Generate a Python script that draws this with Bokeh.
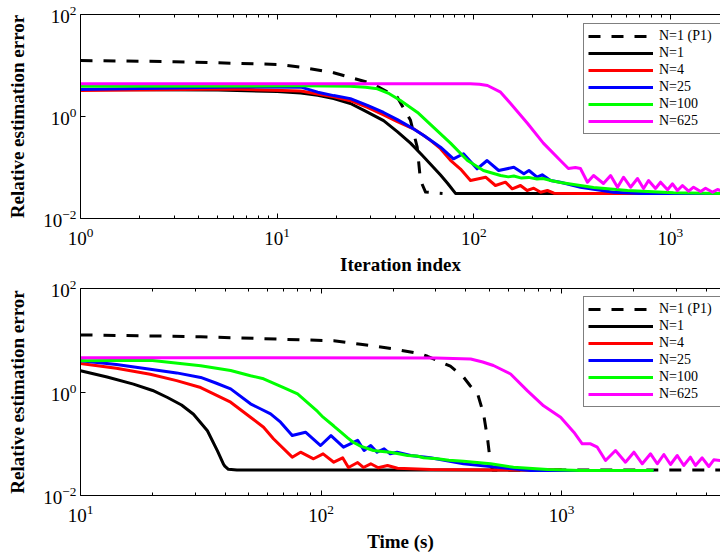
from bokeh.plotting import figure
from bokeh.models import Range1d, LogAxis, FixedTicker, Legend, LegendItem, CustomJSTickFormatter
from bokeh.layouts import column
from bokeh.embed import file_html
from bokeh.resources import INLINE

# ---------------- data ----------------
labels = ["N=1 (P1)", "N=1", "N=4", "N=25", "N=100", "N=625"]
colors = ["black", "black", "#ff0000", "#0000ff", "#00ff00", "#ff00ff"]

# Top panel: error vs iteration index
it_x_p1 = [1, 3, 10, 13.2, 19.4, 30.5, 40.8, 47.7, 51.6, 53.6, 56.9, 69.4]
it_y_p1 = [12.5, 11.9, 10.5, 9.3, 7.2, 4.4, 2.4, 0.84, 0.25, 0.056, 0.033, 0.031]

it_x_n1 = [1, 5, 10, 13.2, 16.1, 19.4, 23.6, 28, 34.8, 41, 47.7, 55, 62.5, 67.8, 73.6,
           80.8, 1800]
it_y_n1 = [3.4, 3.3, 3.1, 2.9, 2.6, 2.24, 1.8, 1.29, 0.83, 0.50, 0.30, 0.17, 0.10, 0.071,
           0.049, 0.031, 0.031]

it_x_n4 = [1, 6, 13.2, 16.1, 19.4, 23.6, 28.8, 34.8, 40.9, 49.4, 55, 60.3, 67.8, 76.2,
           85.7, 96.3, 115, 129, 145, 157, 173, 187, 202, 219, 237, 256, 349, 1800]
it_y_n4 = [3.25, 3.45, 3.16, 2.75, 2.43, 2.04, 1.51, 1.07, 0.79, 0.575, 0.44, 0.34, 0.234,
           0.138, 0.093, 0.0556, 0.0645, 0.0444, 0.0515, 0.0382, 0.0444, 0.0354, 0.0393,
           0.0328, 0.0354, 0.0313, 0.031, 0.031]

it_x_n25 = [1, 6, 13.2, 16.1, 19.4, 23.6, 28.8, 34.8, 40.9, 47.7, 56, 67.8, 78.9, 88.7,
            104, 117, 134, 160, 180, 191, 210, 223, 246, 276, 349, 514, 705, 1800]
it_y_n25 = [3.38, 3.8, 3.76, 3.0, 2.57, 2.24, 1.66, 1.2, 0.87, 0.62, 0.42, 0.25, 0.148,
            0.186, 0.094, 0.137, 0.0873, 0.101, 0.0752, 0.0873, 0.0645, 0.0719, 0.0556,
            0.0515, 0.0411, 0.0328, 0.0309, 0.031]

it_x_n100 = [1, 13.2, 23.6, 28.2, 32.4, 37.2, 42.4, 51.8, 62.5, 76.2, 93, 112, 137, 150,
             160, 175, 190, 210, 225, 250, 276, 407, 606, 1038, 1800]
it_y_n100 = [3.9, 4.0, 3.9, 3.76, 3.49, 2.8, 2.06, 1.2, 0.61, 0.30, 0.137, 0.0873, 0.0697,
             0.0655, 0.068, 0.062, 0.064, 0.0595, 0.061, 0.055, 0.0507, 0.0405, 0.0354,
             0.0319, 0.031]

it_x_n625 = [1, 96, 107, 117.5, 137, 154, 188, 226, 276, 303, 329, 349, 379, 407, 457, 497,
             539, 578, 628, 681, 731, 775, 841, 892, 968, 1026, 1088, 1153, 1239, 1313,
             1426, 1511, 1641, 1738, 1800]
it_y_n625 = [4.4, 4.4, 4.3, 4.05, 3.0, 1.8, 0.73, 0.30, 0.137, 0.0955, 0.1, 0.0955, 0.0515,
             0.0697, 0.0486, 0.0697, 0.0411, 0.0645, 0.0411, 0.0609, 0.0388, 0.0556,
             0.0388, 0.0515, 0.0365, 0.0479, 0.0354, 0.0444, 0.0343, 0.0411, 0.0338,
             0.0393, 0.0328, 0.037, 0.0354]

# Bottom panel: error vs time (s)
t_x_p1 = [10, 31.6, 113, 146, 200, 259, 277, 323, 345, 391, 417, 448, 474, 492, 507, 517, 4580]
t_y_p1 = [12.7, 11.7, 9.76, 8.39, 6.8, 5.47, 4.9, 3.6, 3.15, 1.95, 1.32, 0.915, 0.376, 0.13,
          0.04, 0.031, 0.031]

t_x_n1 = [10, 12.9, 16.6, 19.95, 23, 26.3, 29.5, 33.7, 37.1, 39.3, 39.8, 41.2, 44.7, 1000]
t_y_n1 = [2.57, 1.95, 1.42, 1.07, 0.783, 0.56, 0.372, 0.178, 0.073, 0.0403, 0.037, 0.032,
          0.031, 0.031]

t_x_n4 = [10, 14.1, 19.5, 25.1, 31.6, 42.1, 50.9, 57.7, 63.4, 75.9, 82.2, 93.1, 102, 113,
          123, 130, 142, 150, 161, 173, 189, 208, 285, 507, 1000]
t_y_n4 = [3.56, 2.88, 2.21, 1.66, 1.22, 0.635, 0.326, 0.209, 0.125, 0.055, 0.0687, 0.0512,
          0.0639, 0.044, 0.0535, 0.0348, 0.0434, 0.0348, 0.041, 0.0343, 0.038, 0.0337,
          0.0318, 0.031, 0.031]

t_x_n25 = [10, 14.1, 19.5, 25.1, 31.6, 36.3, 42.1, 50.9, 56.2, 61.7, 67.9, 75.9, 86.2, 99.6,
           110, 124, 142, 151, 161, 171, 183, 194, 207, 236, 285, 391, 542, 743, 2415]
t_y_n25 = [4.0, 3.39, 2.76, 2.34, 1.91, 1.51, 1.15, 0.591, 0.47, 0.379, 0.261, 0.144, 0.167,
           0.0925, 0.144, 0.0858, 0.116, 0.0741, 0.0925, 0.0687, 0.0798, 0.0639, 0.0687,
           0.0593, 0.0535, 0.041, 0.0352, 0.0304, 0.0304]

t_x_n100 = [10, 19.5, 31.6, 42.1, 50.9, 57.7, 69.9, 79.9, 96.7, 102, 113, 121, 129, 136,
            146, 165, 180, 194, 210, 229, 250, 267, 305, 340, 391, 507, 631, 875, 1199, 2415]
t_y_n100 = [4.0, 4.1, 3.21, 2.6, 2.06, 1.8, 1.22, 0.92, 0.42, 0.326, 0.22, 0.167, 0.13,
            0.107, 0.09, 0.074, 0.071, 0.0687, 0.064, 0.0593, 0.058, 0.0535, 0.0512, 0.048,
            0.046, 0.041, 0.0352, 0.0318, 0.0304, 0.0304]

t_x_n625 = [10, 300, 419, 470, 521, 614, 722, 842, 991, 1125, 1219, 1320, 1408, 1524, 1676,
            1844, 1999, 2166, 2345, 2500, 2663, 2838, 3027, 3222, 3434, 3604, 3843, 4095,
            4296, 4580]
t_y_n625 = [4.58, 4.55, 4.34, 3.8, 3.25, 2.23, 1.05, 0.541, 0.326, 0.167, 0.0998, 0.0998,
            0.0858, 0.0475, 0.0741, 0.044, 0.0687, 0.041, 0.0639, 0.041, 0.062, 0.0397,
            0.0593, 0.038, 0.055, 0.038, 0.0535, 0.0363, 0.0489, 0.0475]

top_series = [(it_x_p1, it_y_p1), (it_x_n1, it_y_n1), (it_x_n4, it_y_n4),
              (it_x_n25, it_y_n25), (it_x_n100, it_y_n100), (it_x_n625, it_y_n625)]
bot_series = [(t_x_p1, t_y_p1), (t_x_n1, t_y_n1), (t_x_n4, t_y_n4),
              (t_x_n25, t_y_n25), (t_x_n100, t_y_n100), (t_x_n625, t_y_n625)]

SERIF = "Liberation Serif"
FS = "19px"


def decade_ticker(lo, hi, minor=True):
    majors = [10.0 ** k for k in range(lo, hi + 1)]
    minors = [m * 10.0 ** k for k in range(lo, hi + 1) for m in range(2, 10)] if minor else []
    return FixedTicker(ticks=majors, minor_ticks=minors)


def style_axis(ax):
    ax.axis_line_color = "black"
    ax.axis_line_width = 1
    ax.major_tick_line_color = "black"
    ax.minor_tick_line_color = "black"
    ax.major_tick_in = 5
    ax.major_tick_out = 0
    ax.minor_tick_in = 3
    ax.minor_tick_out = 0
    ax.major_label_text_font = SERIF
    ax.major_label_text_font_size = FS
    ax.major_label_text_color = "black"
    ax.axis_label_text_font = SERIF
    ax.axis_label_text_font_size = FS
    ax.axis_label_text_font_style = "bold"
    ax.axis_label_text_color = "black"


def make_fig(height, btop, bbot, xr, xdec, xlabel, series, legend_y):
    p = figure(width=720, height=height, x_axis_type="log", y_axis_type="log",
               x_range=Range1d(*xr), y_range=Range1d(0.01, 100),
               output_backend="svg", toolbar_location=None,
               min_border_left=80, min_border_right=0,
               min_border_top=btop, min_border_bottom=bbot)
    p.outline_line_color = None
    p.xgrid.visible = False
    p.ygrid.visible = False
    p.background_fill_color = "white"
    p.border_fill_color = "white"

    xt = decade_ticker(*xdec)
    yt = FixedTicker(ticks=[0.01, 1, 100], minor_ticks=[])
    p.xaxis[0].ticker = xt
    p.yaxis[0].ticker = yt
    p.xaxis[0].axis_label = xlabel
    p.yaxis[0].axis_label = "Relative estimation error"
    for ax in (p.xaxis[0], p.yaxis[0]):
        style_axis(ax)
    p.xaxis[0].major_label_standoff = 9
    p.xaxis[0].axis_label_standoff = 6
    p.yaxis[0].major_label_standoff = 4
    p.yaxis[0].axis_label_standoff = 12

    top = LogAxis(ticker=decade_ticker(*xdec),
                  formatter=CustomJSTickFormatter(code="return ''"))
    style_axis(top)
    top.major_label_text_font_size = "2px"
    top.major_label_standoff = 0
    p.add_layout(top, "above")

    items = []
    for (xs, ys), lab, col in zip(series, labels, colors):
        if lab == "N=1 (P1)":
            r = p.line(xs, ys, line_color=col, line_width=3, line_dash="12 11",
                       line_join="round")
        else:
            r = p.line(xs, ys, line_color=col, line_width=3, line_join="round")
        items.append((lab, r))
    lg = Legend(items=[LegendItem(label=l, renderers=[r]) for l, r in items],
                location=(503, legend_y))
    lg.label_text_font = SERIF
    lg.label_text_font_size = "14px"
    lg.label_text_color = "black"
    lg.label_height = 16
    lg.glyph_height = 16
    lg.glyph_width = 65
    lg.label_standoff = 6
    lg.label_width = 57
    lg.padding = 4
    lg.spacing = 1
    lg.margin = 0
    lg.border_line_color = "black"
    lg.border_line_width = 1
    lg.background_fill_color = "white"
    lg.background_fill_alpha = 1
    p.add_layout(lg)
    return p


p1 = make_fig(277, 14, 59, (1, 1800), (0, 3), "Iteration index", top_series, 84)
p2 = make_fig(280, 11, 62, (10, 4580), (1, 3), "Time (s)", bot_series, 88)

layout = column(p1, p2, spacing=0)
open("out.html", "w").write(file_html(layout, INLINE))
